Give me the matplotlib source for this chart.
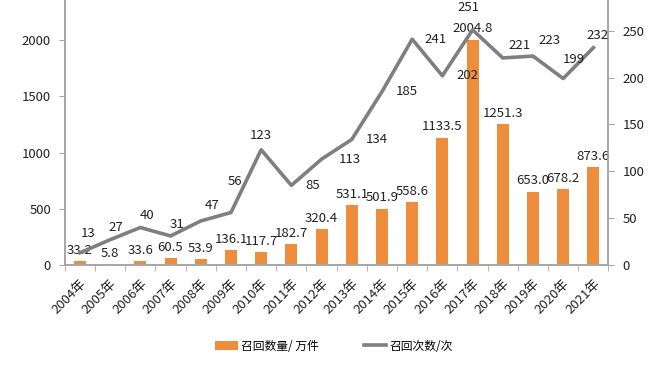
import numpy as np
import matplotlib.pyplot as plt

plt.rcParams['font.family'] = ['Noto Sans CJK SC', 'DejaVu Sans']

years = ['2004年', '2005年', '2006年', '2007年', '2008年', '2009年', '2010年', '2011年', '2012年',
         '2013年', '2014年', '2015年', '2016年', '2017年', '2018年', '2019年', '2020年', '2021年']
recall_qty = [33.2, 5.8, 33.6, 60.5, 53.9, 136.1, 117.7, 182.7, 320.4,
              531.1, 501.9, 558.6, 1133.5, 2004.8, 1251.3, 653.0, 678.2, 873.6]
recall_cnt = [13, 27, 40, 31, 47, 56, 123, 85, 113, 134, 185, 241, 202, 251, 221, 223, 199, 232]

# label offsets for the line labels (points)
cnt_offsets = [(6, 14), (4, 9), (5, 9), (5, 8), (8, 11), (3, 22), (0, 10), (15, 0), (20, 0),
               (18, 0), (18, 0), (17, 0), (18, 0), (-3, 16), (12, 9), (12, 11), (8, 14), (3, 9)]

bar_color = '#EE8D3B'
line_color = '#7F7F7F'
axis_color = '#A6A6A6'

fig = plt.figure(figsize=(6.55, 3.65), dpi=100)
ax = fig.add_axes([0.099, 0.274, 0.83, 0.77])
ax2 = ax.twinx()

x = np.arange(len(years))
bars = ax.bar(x, recall_qty, width=0.4, color=bar_color, label='召回数量/ 万件', zorder=2)
line, = ax2.plot(x, recall_cnt, color=line_color, lw=2.6, label='召回次数/次', zorder=3)

ax.set_xlim(-0.5, len(years) - 0.5)
ax.set_ylim(0, 2500)
ax2.set_ylim(0, 300)
ax.set_yticks(np.arange(0, 2001, 500))
ax2.set_yticks(np.arange(0, 251, 50))

ax.set_xticks(x)
ax.set_xticklabels(years, rotation=45, ha='right', rotation_mode='anchor', fontsize=9.5, color='#222222')
ax.tick_params(axis='x', length=0, pad=9)
ax.set_xticks(np.arange(-0.5, len(years)), minor=True)
ax.tick_params(axis='x', which='minor', length=4, color=axis_color)

ax.tick_params(axis='y', length=4, color=axis_color, labelsize=9.5, labelcolor='#222222', pad=6)
ax2.tick_params(axis='y', length=4, color=axis_color, labelsize=9.5, labelcolor='#222222', pad=6)

for a in (ax, ax2):
    a.spines['top'].set_visible(False)
    for s in ('left', 'right', 'bottom'):
        a.spines[s].set_color(axis_color)
        a.spines[s].set_linewidth(1.2)

for xi, v in zip(x, recall_qty):
    ax.annotate(f'{v:.1f}', (xi, v), xytext=(0, 3), textcoords='offset points',
                ha='center', va='bottom', fontsize=9.5, color='#222222', zorder=4)

for xi, v, off in zip(x, recall_cnt, cnt_offsets):
    ax2.annotate(str(v), (xi, v), xytext=off, textcoords='offset points',
                 ha='center', va='center', fontsize=9.5, color='#222222', zorder=4)

fig.legend(handles=[bars, line], loc='center', bbox_to_anchor=(0.51, 0.052), ncol=2,
           frameon=False, fontsize=8.5, columnspacing=3.8, handlelength=1.9, handletextpad=0.3)

fig.savefig('out.png', dpi=100)
